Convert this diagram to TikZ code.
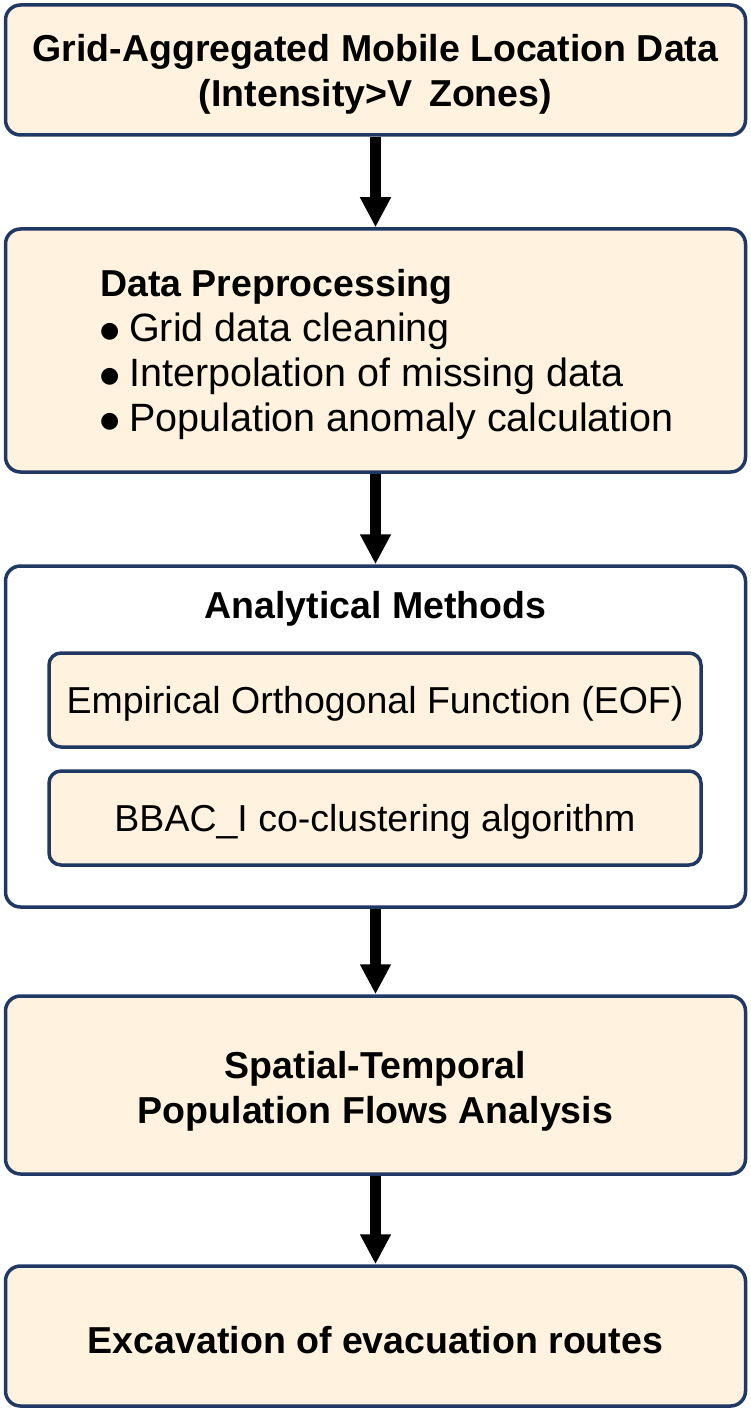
\documentclass[tikz,border=0pt]{standalone}
\usepackage{fontspec}
\setmainfont{Liberation Sans}
\newfontfamily\bulletfont{DejaVu Sans}
\usetikzlibrary{arrows.meta}
\definecolor{boxfill}{HTML}{FFF2DE}
\definecolor{boxline}{HTML}{1F3864}
\newcommand{\bigfont}{\fontsize{37.5}{45}\selectfont}
\newcommand{\listfont}{\fontsize{39.5}{45}\selectfont}
\newcommand{\bul}{\makebox[29pt][l]{\raisebox{4pt}{\fontsize{22}{22}\bulletfont ●}}}
\tikzset{
  stagebox/.style={draw=boxline, line width=3.5pt, fill=boxfill, rounded corners=15pt,
    minimum width=740pt, inner sep=0pt},
  innerbox/.style={draw=boxline, line width=3.5pt, fill=boxfill, rounded corners=12pt,
    minimum width=652pt, minimum height=94pt, inner sep=0pt},
  boxtext/.style={inner sep=0pt, align=center, font=\bigfont\bfseries},
  plaintext/.style={inner sep=0pt, align=center, font=\bigfont},
  flowarrow/.style={line width=11pt, -{Triangle[width=29pt,length=30pt]}, black}
}
\begin{document}
\begin{tikzpicture}[x=1pt,y=-1pt]
\useasboundingbox (0,0) rectangle (751,1412);
% boxes
\node[stagebox, minimum height=130pt] (b1) at (375.5,70) {};
\node[stagebox, minimum height=243pt] (b2) at (375.5,350.5) {};
\node[stagebox, fill=white, minimum height=341pt] (b3) at (375.5,736.5) {};
\node[innerbox] (eof) at (375,700) {};
\node[innerbox] (bbac) at (375,818) {};
\node[stagebox, minimum height=178pt] (b4) at (375.5,1085) {};
\node[stagebox, minimum height=140pt] (b5) at (375.5,1336) {};
% texts
\node[boxtext] (b1t) at (375.5,74) {Grid-Aggregated Mobile Location Data\\(Intensity>V\, Zones)};
\node[anchor=north west, align=left, inner sep=0pt, font=\listfont] (b2t) at (100,269.5)
  {{\bigfont\bfseries Data Preprocessing}\\
   \bul Grid data cleaning\\
   \bul Interpolation of missing data\\
   \bul Population anomaly calculation};
\node[boxtext] (b3t) at (375.5,609) {Analytical Methods};
\node[plaintext] (eoft) at (375,704) {Empirical Orthogonal Function (EOF)};
\node[plaintext] (bbact) at (375,822) {BBAC\_I co-clustering algorithm};
\node[boxtext] (b4t) at (375.5,1091) {Spatial-Temporal\\Population Flows Analysis};
\node[boxtext] (b5t) at (375.5,1340) {Excavation of evacuation routes};
% arrows
\draw[flowarrow] (b1.south) -- (b2.north);
\draw[flowarrow] (b2.south) -- (b3.north);
\draw[flowarrow] (b3.south) -- (b4.north);
\draw[flowarrow] (b4.south) -- (b5.north);
\end{tikzpicture}
\end{document}
